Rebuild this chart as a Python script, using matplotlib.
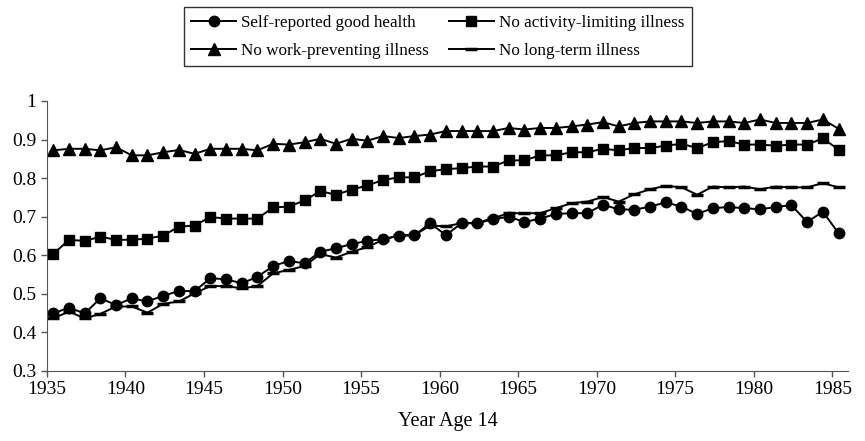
import matplotlib
matplotlib.use('Agg')
import matplotlib.pyplot as plt

plt.rcParams['font.family'] = ['Liberation Serif', 'DejaVu Serif']

# Health measures by year the cohort was aged 14
years = list(range(1935, 1986))

good_health = [0.449, 0.464, 0.449, 0.488, 0.471, 0.488, 0.480, 0.495, 0.507, 0.507,
               0.540, 0.538, 0.527, 0.544, 0.572, 0.585, 0.579, 0.609, 0.618, 0.629,
               0.637, 0.642, 0.650, 0.652, 0.683, 0.652, 0.683, 0.683, 0.693, 0.700,
               0.686, 0.695, 0.707, 0.709, 0.709, 0.731, 0.719, 0.718, 0.726, 0.737,
               0.726, 0.707, 0.722, 0.725, 0.722, 0.719, 0.725, 0.730, 0.686, 0.713,
               0.657]

no_activity = [0.603, 0.640, 0.637, 0.648, 0.640, 0.640, 0.643, 0.651, 0.674, 0.677,
               0.699, 0.695, 0.695, 0.695, 0.724, 0.726, 0.742, 0.766, 0.757, 0.770,
               0.781, 0.795, 0.802, 0.802, 0.818, 0.823, 0.826, 0.830, 0.830, 0.846,
               0.846, 0.859, 0.859, 0.867, 0.867, 0.876, 0.872, 0.878, 0.878, 0.884,
               0.889, 0.878, 0.893, 0.896, 0.887, 0.887, 0.884, 0.887, 0.887, 0.903,
               0.874]

no_work = [0.872, 0.876, 0.876, 0.872, 0.880, 0.859, 0.859, 0.867, 0.873, 0.863,
           0.876, 0.876, 0.876, 0.872, 0.889, 0.887, 0.893, 0.902, 0.889, 0.902,
           0.897, 0.909, 0.904, 0.909, 0.913, 0.922, 0.922, 0.922, 0.922, 0.930,
           0.926, 0.930, 0.930, 0.934, 0.939, 0.945, 0.934, 0.943, 0.947, 0.947,
           0.947, 0.943, 0.947, 0.947, 0.943, 0.952, 0.943, 0.943, 0.943, 0.952,
           0.928]

no_longterm = [0.436, 0.454, 0.436, 0.448, 0.467, 0.467, 0.451, 0.474, 0.480, 0.501,
               0.520, 0.520, 0.514, 0.520, 0.553, 0.562, 0.572, 0.603, 0.594, 0.609,
               0.621, 0.640, 0.652, 0.652, 0.677, 0.675, 0.683, 0.684, 0.696, 0.709,
               0.709, 0.709, 0.722, 0.735, 0.739, 0.751, 0.739, 0.758, 0.771, 0.780,
               0.776, 0.757, 0.778, 0.776, 0.778, 0.771, 0.778, 0.776, 0.776, 0.787,
               0.776]

tick_years = [1935, 1940, 1945, 1950, 1955, 1960, 1965, 1970, 1975, 1980, 1985]

fig = plt.figure(figsize=(8.65, 4.41), dpi=100)
ax = fig.add_axes([0.0543, 0.159, 0.926, 0.612])

lw = 1.4
l1, = ax.plot(years, good_health, color='black', lw=lw, marker='o', ms=7.5,
              label='Self-reported good health')
l2, = ax.plot(years, no_activity, color='black', lw=lw, marker='s', ms=7,
              label='No activity-limiting illness')
l3, = ax.plot(years, no_work, color='black', lw=lw, marker='^', ms=8.5,
              label='No work-preventing illness')
l4, = ax.plot(years, no_longterm, color='black', lw=lw, marker='_', ms=8, mew=2.5,
              label='No long-term illness')

ax.set_xlim(1934.6, 1985.6)
ax.set_ylim(0.3, 1.0)
ax.set_xticks([t - 0.4 for t in tick_years])
ax.set_xticklabels([str(t) for t in tick_years])
ax.set_yticks([0.3, 0.4, 0.5, 0.6, 0.7, 0.8, 0.9, 1.0])
ax.set_yticklabels(['0.3', '0.4', '0.5', '0.6', '0.7', '0.8', '0.9', '1'])
ax.tick_params(labelsize=14, length=4, width=1, color='#555555')
ax.spines['top'].set_visible(False)
ax.spines['right'].set_visible(False)
ax.spines['left'].set_color('#555555')
ax.spines['bottom'].set_color('#555555')
ax.set_xlabel('Year Age 14', fontsize=14.5, labelpad=10)

# column-major fill: row 1 = good health / activity, row 2 = work / long-term
leg = fig.legend(handles=[l1, l3, l2, l4], loc='upper center',
                 bbox_to_anchor=(0.506, 0.984), borderaxespad=0, ncol=2,
                 fontsize=12.3, frameon=True, fancybox=False, edgecolor='black',
                 handlelength=2.6, handletextpad=0.3, columnspacing=1.2,
                 borderpad=0.45, labelspacing=0.7)
leg.get_frame().set_linewidth(1.0)

fig.savefig('out.png', dpi=100)
